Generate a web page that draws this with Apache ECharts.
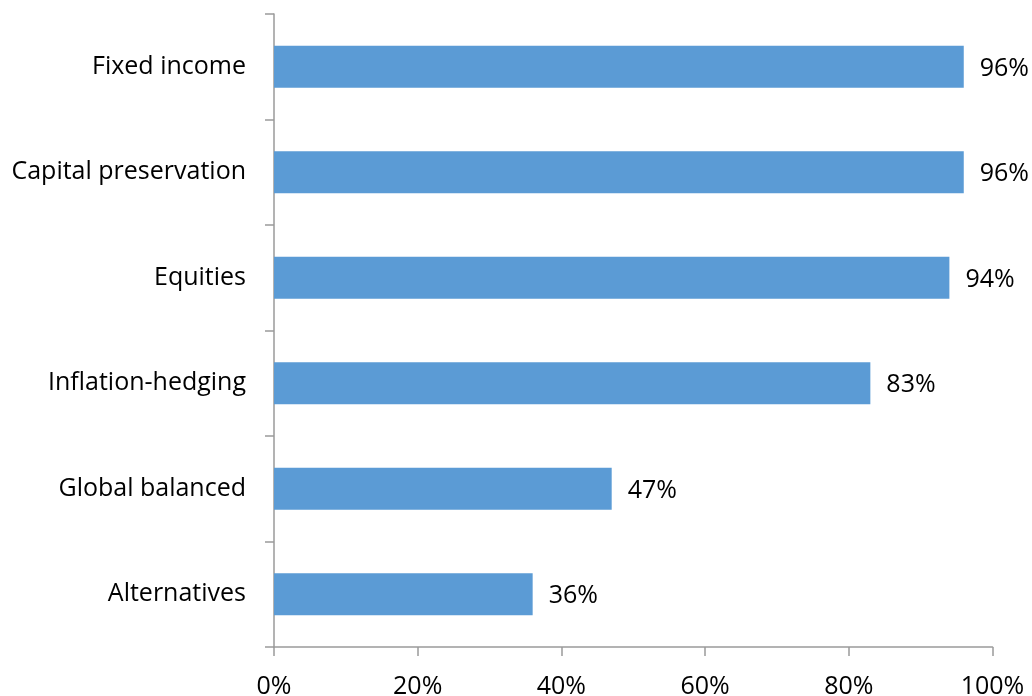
<!DOCTYPE html>
<html>
<head>
<meta charset="utf-8">
<script src="https://cdn.jsdelivr.net/npm/echarts@6/dist/echarts.min.js"></script>
<style>html,body{margin:0;padding:0;background:#fff}#c{width:1032px;height:696px}</style>
</head>
<body>
<div id="c"></div>
<script>
const categories = ["Fixed income", "Capital preservation", "Equities", "Inflation-hedging", "Global balanced", "Alternatives"];
const values = [96, 96, 94, 83, 47, 36];
const xTicks = [0, 20, 40, 60, 80, 100];

const FONT = "Open Sans";
const chart = echarts.init(document.getElementById('c'), null, {renderer: 'canvas'});
chart.setOption({
  animation: false,
  backgroundColor: '#ffffff',
  grid: {left: 274, right: 39.5, top: 14, bottom: 49, containLabel: false, outerBoundsMode: 'none'},
  xAxis: {
    type: 'value', min: xTicks[0], max: xTicks[xTicks.length - 1], interval: 20,
    axisLine: {show: true, lineStyle: {color: '#9a9a9a', width: 1.5}},
    axisTick: {show: true, length: 9, lineStyle: {color: '#9a9a9a', width: 1.5}},
    splitLine: {show: false},
    axisLabel: {formatter: '{value}%', color: '#000', fontFamily: FONT, fontSize: 25, margin: 27}
  },
  yAxis: {
    type: 'category', data: categories, inverse: true,
    axisLine: {show: true, lineStyle: {color: '#9a9a9a', width: 1.5}},
    axisTick: {show: true, length: 9, alignWithLabel: false, lineStyle: {color: '#9a9a9a', width: 1.5}},
    axisLabel: {color: '#000', fontFamily: FONT, fontSize: 25, margin: 28, padding: [4, 0, 0, 0]}
  },
  series: [{
    type: 'bar', data: values, barCategoryGap: '60%',
    itemStyle: {color: '#5b9bd5'},
    label: {show: true, position: 'right', distance: 16, formatter: '{c}%', color: '#000', fontFamily: FONT, fontSize: 25, offset: [0, 2]}
  }]
});
</script>
</body>
</html>
